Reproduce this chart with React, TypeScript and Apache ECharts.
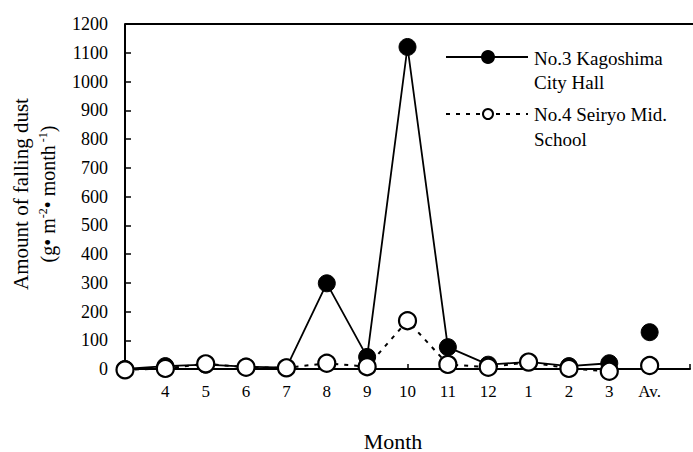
import React, { useEffect, useRef } from "react";
import * as echarts from "echarts";

const categories = ["", "4", "5", "6", "7", "8", "9", "10", "11", "12", "1", "2", "3", "Av.", ""];
const kagoshima = [0, 10, 15, 8, 5, 298, 42, 1120, 76, 15, 25, 10, 20, "-", "-"];
const seiryo = [-3, 2, 18, 6, 4, 20, 8, 168, 16, 6, 24, 2, -8, "-", "-"];
const kagoshimaAv = ["-", "-", "-", "-", "-", "-", "-", "-", "-", "-", "-", "-", "-", 128, "-"];
const seiryoAv = ["-", "-", "-", "-", "-", "-", "-", "-", "-", "-", "-", "-", "-", 12, "-"];
const yMin = 0;
const yMax = 1200;
const yStep = 100;

const FONT = "Liberation Serif";
const INK = "#000";

export default function App() {
  const ref = useRef<HTMLDivElement>(null);
  useEffect(() => {
    if (!ref.current) return;
    const chart = echarts.init(ref.current, null, { renderer: "svg" });
    const openItem = { color: "#fff", borderColor: "#000", borderWidth: 2.2, opacity: 1 };
    const filledItem = { color: "#000", borderColor: "#000", borderWidth: 1, opacity: 1 };
    chart.setOption({
      animation: false,
      backgroundColor: "#fff",
      grid: { left: 125, right: 0, top: 24, bottom: 83 },
      xAxis: {
        type: "category",
        data: categories,
        boundaryGap: false,
        axisLine: { lineStyle: { color: "#000", width: 2 } },
        axisTick: { inside: true, length: 5, lineStyle: { color: "#000", width: 1.5 } },
        axisLabel: { color: INK, fontFamily: FONT, fontSize: 17, margin: 14 },
        splitLine: { show: false },
      },
      yAxis: {
        type: "value",
        min: yMin,
        max: yMax,
        interval: yStep,
        axisLine: { show: true, lineStyle: { color: "#000", width: 2 } },
        axisTick: { show: true, inside: true, length: 6, lineStyle: { color: "#000", width: 1.5 } },
        axisLabel: { color: INK, fontFamily: FONT, fontSize: 18, margin: 17, formatter: (v: number) => String(v) },
        splitLine: { show: false },
      },
      graphic: [
        { type: "line", shape: { x1: 125, y1: 24, x2: 693, y2: 24 }, style: { stroke: "#000", lineWidth: 2 } },
        {
          type: "text", x: 21, y: 194, rotation: Math.PI / 2,
          style: { text: "Amount of falling dust", fontFamily: FONT, fontSize: 21, fill: INK, align: "center", verticalAlign: "middle" },
        },
        {
          type: "text", x: 47, y: 194, rotation: Math.PI / 2,
          style: {
            text: "{a|(g• m}{s|-2}{a|• month}{s| -1}{a|)}",
            align: "center", verticalAlign: "middle",
            rich: {
              a: { fontFamily: FONT, fontSize: 20, fill: INK, verticalAlign: "bottom" },
              s: { fontFamily: FONT, fontSize: 12, fill: INK, verticalAlign: "top", padding: [0, 0, 9, 0] },
            },
          },
        },
        {
          type: "text", x: 393, y: 441,
          style: { text: "Month", fontFamily: FONT, fontSize: 22, fill: INK, align: "center", verticalAlign: "middle" },
        },
        { type: "line", shape: { x1: 446, y1: 57, x2: 528, y2: 57 }, style: { stroke: "#000", lineWidth: 2 } },
        { type: "circle", shape: { cx: 488, cy: 57, r: 7 }, style: { fill: "#000" } },
        { type: "text", x: 534, y: 58, style: { text: "No.3 Kagoshima", fontFamily: FONT, fontSize: 19, fill: INK, verticalAlign: "middle" } },
        { type: "text", x: 534, y: 82, style: { text: "City Hall", fontFamily: FONT, fontSize: 19, fill: INK, verticalAlign: "middle" } },
        { type: "line", shape: { x1: 446, y1: 114, x2: 528, y2: 114 }, style: { stroke: "#000", lineWidth: 2, lineDash: [4, 6] } },
        { type: "circle", shape: { cx: 488, cy: 114, r: 5 }, style: { fill: "#fff", stroke: "#000", lineWidth: 2 } },
        { type: "text", x: 534, y: 114, style: { text: "No.4 Seiryo Mid.", fontFamily: FONT, fontSize: 19, fill: INK, verticalAlign: "middle" } },
        { type: "text", x: 534, y: 139, style: { text: "School", fontFamily: FONT, fontSize: 19, fill: INK, verticalAlign: "middle" } },
      ],
      series: [
        {
          name: "No.3 Kagoshima City Hall",
          type: "line",
          data: kagoshima,
          clip: false,
          symbol: "circle",
          symbolSize: 17,
          showAllSymbol: true,
          lineStyle: { color: "#000", width: 1.8 },
          itemStyle: filledItem,
        },
        {
          name: "No.4 Seiryo Mid. School",
          type: "line",
          data: seiryo,
          clip: false,
          symbol: "circle",
          symbolSize: 17,
          showAllSymbol: true,
          lineStyle: { color: "#000", width: 2, type: [4, 6] },
          itemStyle: openItem,
        },
        {
          type: "scatter",
          data: kagoshimaAv,
          clip: false,
          symbol: "circle",
          symbolSize: 17,
          itemStyle: filledItem,
        },
        {
          type: "scatter",
          data: seiryoAv,
          clip: false,
          symbol: "circle",
          symbolSize: 17,
          itemStyle: openItem,
        },
      ],
    });
    return () => chart.dispose();
  }, []);
  return <div ref={ref} style={{ width: 693, height: 452, position: "absolute", left: 0, top: 0 }} />;
}
